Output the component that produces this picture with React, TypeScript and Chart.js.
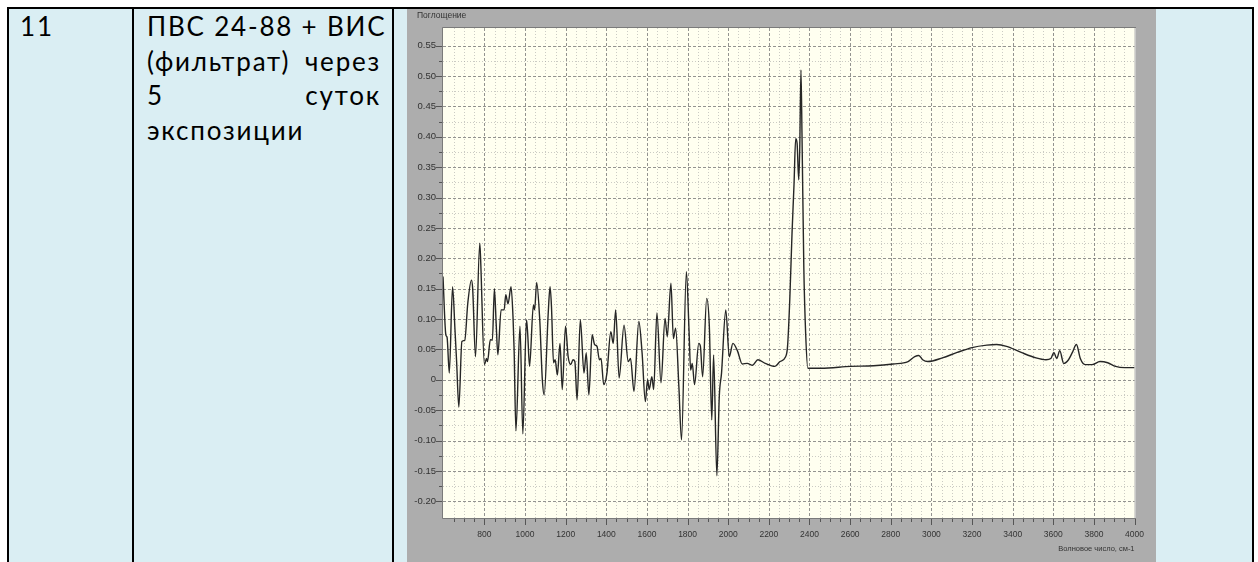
import React, { useEffect, useRef } from "react";
import { Chart, registerables } from "chart.js";

Chart.register(...registerables);

const rowNumber = "11";
const descriptionLines = ["ПВС 24-88 + ВИС", "(фильтрат) через", "5 суток", "экспозиции"];
const yAxisTitle = "Поглощение";
const xAxisTitle = "Волновое число, см-1";

const wavenumbers = [
  596, 610, 616, 627, 643, 655, 663, 674, 689, 703, 718, 736, 742, 756, 777, 781,
  800, 810, 815, 829, 839, 849, 858, 866, 882, 897, 905, 916, 931, 941, 946, 955,
  975, 989, 1007, 1013, 1022, 1041, 1047, 1057, 1072, 1085, 1094, 1114, 1123, 1130,
  1140, 1148, 1159, 1172, 1183, 1199, 1212, 1225, 1236, 1245, 1256, 1272, 1290, 1301,
  1314, 1330, 1342, 1354, 1366, 1374, 1387, 1403, 1422, 1434, 1446, 1463, 1487, 1508,
  1519, 1536, 1560, 1576, 1592, 1603, 1611, 1624, 1633, 1649, 1669, 1689, 1700, 1718,
  1730, 1741, 1757, 1770, 1794, 1807, 1815, 1823, 1834, 1855, 1863, 1874, 1894, 1907,
  1919, 1928, 1944, 1956, 1967, 1988, 2005, 2023, 2045, 2069, 2093, 2120, 2146, 2182,
  2230, 2255, 2281, 2292, 2303, 2314, 2324, 2332, 2339, 2347, 2352, 2358, 2363, 2372,
  2381, 2392, 2457, 2602, 2715, 2812, 2885, 2918, 2938, 2957, 2982, 3054, 3127, 3200,
  3273, 3321, 3370, 3442, 3515, 3564, 3588, 3603, 3617, 3632, 3651, 3675, 3694, 3714,
  3733, 3757, 3791, 3830, 3868, 3907, 3951, 4000,
];

const absorbance = [
  0.17, 0.074, 0.07, 0.011, 0.153, 0.082, 0.03, -0.045, 0.063, 0.065, 0.126, 0.164, 0.15, 0.038, 0.225, 0.2,
  0.025, 0.035, 0.03, 0.066, 0.065, 0.15, 0.09, 0.041, 0.115, 0.115, 0.14, 0.125, 0.153, 0.1, 0.05, -0.084,
  0.088, -0.089, 0.099, 0.075, 0.022, 0.123, 0.115, 0.16, 0.1, 0.0, -0.025, 0.11, 0.153, 0.12,
  0.028, 0.033, 0.008, 0.06, -0.016, 0.088, 0.038, 0.025, 0.033, 0.03, -0.033, 0.099, 0.011, 0.044,
  -0.025, 0.074, 0.058, 0.055, 0.033, 0.035, -0.008, 0.011, 0.079, 0.06, 0.115, 0.003, 0.09, 0.03,
  0.035, -0.019, 0.096, 0.044, -0.036, 0.0, -0.016, 0.005, -0.016, 0.11, -0.005, 0.101, 0.071, 0.159,
  0.068, 0.085, -0.011, -0.099, 0.178, 0.082, 0.016, 0.027, -0.008, 0.06, 0.055, 0.005, 0.134, 0.088,
  -0.066, 0.041, -0.158, -0.027, 0.011, 0.115, 0.038, 0.06, 0.048, 0.026, 0.027, 0.024, 0.033, 0.027,
  0.022, 0.03, 0.037, 0.055, 0.132, 0.241, 0.323, 0.397, 0.389, 0.329, 0.38, 0.51, 0.406, 0.186,
  0.077, 0.019, 0.019, 0.022, 0.023, 0.026, 0.03, 0.038, 0.04, 0.033, 0.03, 0.036, 0.045, 0.053,
  0.057, 0.058, 0.055, 0.045, 0.036, 0.033, 0.035, 0.045, 0.035, 0.048, 0.027, 0.033, 0.045, 0.058,
  0.035, 0.025, 0.025, 0.03, 0.028, 0.022, 0.02, 0.02,
];

const xMin = 596;
const xMax = 4000;
const xStep = 50;
const xMajorStep = 200;
const xFirstLabel = 800;
const yMin = -0.2275;
const yMax = 0.579;
const yStep = 0.025;
const yMajorStep = 0.05;

const isMultiple = (v: number, step: number) => Math.abs(v / step - Math.round(v / step)) < 1e-4;

const tickFont = "'Liberation Sans Narrow', 'Liberation Sans', Arial, sans-serif";

const framePlugin = {
  id: "framePlugin",
  beforeDraw(chart: any) {
    const { ctx, chartArea: a, width, height } = chart;
    ctx.save();
    ctx.fillStyle = "#ADADAD";
    ctx.fillRect(0, 0, width, height);
    ctx.fillStyle = "#FFFFF0";
    ctx.fillRect(a.left, a.top, a.right - a.left, a.bottom - a.top);
    ctx.restore();
  },
  beforeDatasetsDraw(chart: any) {
    const { ctx, chartArea: a, scales } = chart;
    const xs = scales.x;
    const ys = scales.y;
    ctx.save();
    ctx.lineWidth = 1;
    const pass = (major: boolean) => {
      ctx.strokeStyle = major ? "rgba(120,120,120,0.8)" : "rgba(160,160,160,0.55)";
      ctx.setLineDash(major ? [3, 2] : [1, 2]);
      xs.ticks.forEach((t: any) => {
        if (isMultiple(t.value, xMajorStep) !== major) return;
        const px = Math.round(xs.getPixelForValue(t.value)) + 0.5;
        if (px <= a.left + 1 || px >= a.right - 1) return;
        ctx.beginPath();
        ctx.moveTo(px, a.top);
        ctx.lineTo(px, a.bottom);
        ctx.stroke();
      });
      ys.ticks.forEach((t: any) => {
        if (isMultiple(t.value, yMajorStep) !== major) return;
        const py = Math.round(ys.getPixelForValue(t.value)) + 0.5;
        if (py <= a.top + 1 || py >= a.bottom - 1) return;
        ctx.beginPath();
        ctx.moveTo(a.left, py);
        ctx.lineTo(a.right, py);
        ctx.stroke();
      });
    };
    pass(false);
    pass(true);
    ctx.restore();
  },
  afterDraw(chart: any) {
    const { ctx, chartArea: a, scales } = chart;
    const xs = scales.x;
    const ys = scales.y;
    ctx.save();
    ctx.lineWidth = 1;
    ctx.setLineDash([]);
    ctx.strokeStyle = "#C8C8C8";
    ctx.beginPath();
    ctx.moveTo(Math.round(a.right) + 0.5, a.top);
    ctx.lineTo(Math.round(a.right) + 0.5, a.bottom);
    ctx.stroke();
    ctx.strokeStyle = "#7A7A7A";
    ctx.beginPath();
    ctx.moveTo(Math.round(a.left) - 0.5, Math.round(a.top) - 0.5);
    ctx.lineTo(Math.round(a.right) + 1, Math.round(a.top) - 0.5);
    ctx.moveTo(Math.round(a.left) - 0.5, Math.round(a.top) - 0.5);
    ctx.lineTo(Math.round(a.left) - 0.5, Math.round(a.bottom) + 0.5);
    ctx.lineTo(Math.round(a.right) + 1, Math.round(a.bottom) + 0.5);
    ctx.stroke();
    ctx.strokeStyle = "#555555";
    ctx.beginPath();
    xs.ticks.forEach((t: any) => {
      if (t.value < xMin + 10) return;
      const px = Math.round(xs.getPixelForValue(t.value)) + 0.5;
      const len = isMultiple(t.value, xMajorStep) ? 6 : 3;
      ctx.moveTo(px, Math.round(a.bottom) + 1);
      ctx.lineTo(px, Math.round(a.bottom) + 1 + len);
    });
    ys.ticks.forEach((t: any) => {
      if (t.value < yMin + 0.005 || t.value > yMax - 0.002) return;
      const py = Math.round(ys.getPixelForValue(t.value)) + 0.5;
      const len = isMultiple(t.value, yMajorStep) ? 6 : 3;
      ctx.moveTo(Math.round(a.left) - 1, py);
      ctx.lineTo(Math.round(a.left) - 1 - len, py);
    });
    ctx.stroke();
    ctx.fillStyle = "#333333";
    ctx.font = "8.5px 'Liberation Sans', Arial, sans-serif";
    ctx.textBaseline = "middle";
    ctx.textAlign = "left";
    ctx.fillText(yAxisTitle, 10, 7);
    ctx.textAlign = "right";
    ctx.font = "7.5px 'Liberation Sans', Arial, sans-serif";
    ctx.fillText(xAxisTitle, a.right, 540);
    ctx.restore();
  },
};

function SpectrumChart() {
  const ref = useRef<HTMLCanvasElement | null>(null);
  useEffect(() => {
    if (!ref.current) return;
    const points = wavenumbers.map((x, i) => ({ x, y: absorbance[i] }));
    const chart = new Chart(ref.current, {
      type: "line",
      data: {
        datasets: [
          {
            data: points,
            borderColor: "#262626",
            borderWidth: 1.4,
            pointRadius: 0,
            fill: false,
            cubicInterpolationMode: "monotone",
          },
        ],
      },
      options: {
        animation: false,
        responsive: false,
        maintainAspectRatio: false,
        layout: { padding: { top: 19, right: 11, bottom: 0, left: 0 } },
        plugins: { legend: { display: false }, tooltip: { enabled: false }, title: { display: false } },
        scales: {
          x: {
            type: "linear",
            min: xMin,
            max: xMax,
            grid: { display: false, drawTicks: false },
            border: { display: false },
            ticks: {
              stepSize: xStep,
              autoSkip: false,
              maxRotation: 0,
              minRotation: 0,
              padding: 12,
              color: "#333333",
              font: { family: tickFont, size: 8.5 },
              callback: (v: any) => {
                const n = Number(v);
                return isMultiple(n, xMajorStep) && n >= xFirstLabel ? String(n) : "";
              },
            },
            afterFit: (s: any) => {
              s.height = 44;
            },
          },
          y: {
            type: "linear",
            min: yMin,
            max: yMax,
            grid: { display: false, drawTicks: false },
            border: { display: false },
            ticks: {
              stepSize: yStep,
              autoSkip: false,
              padding: 7,
              color: "#333333",
              font: { family: tickFont, size: 9.5 },
              callback: (v: any) => {
                const n = Number(v);
                if (!isMultiple(n, yMajorStep)) return "";
                if (Math.abs(n) < 1e-6) return "0";
                return n.toFixed(2);
              },
            },
            afterFit: (s: any) => {
              s.width = 36;
            },
          },
        },
      },
      plugins: [framePlugin],
    });
    return () => chart.destroy();
  }, []);
  return <canvas ref={ref} width={749} height={553} style={{ display: "block", width: 749, height: 553 }} />;
}

export default function App() {
  const textFont = "Lato, 'Open Sans', 'Liberation Sans', sans-serif";
  const lineBox = (i: number, text: string, last: boolean) => (
    <div
      key={i}
      style={{
        position: "absolute",
        left: 147,
        top: 6 + i * 34.5,
        width: 234,
        height: 40,
        lineHeight: "40px",
        fontSize: 26,
        whiteSpace: "nowrap",
        textAlign: last ? "left" : "justify",
        textAlignLast: last ? "left" : "justify",
        letterSpacing: 1.8,
      } as React.CSSProperties}
    >
      {text}
    </div>
  );
  return (
    <div
      style={{
        position: "absolute",
        left: 0,
        top: 0,
        width: 1258,
        height: 562,
        background: "#FFFFFF",
        overflow: "hidden",
        fontFamily: textFont,
        color: "#000",
      }}
    >
      <div style={{ position: "absolute", left: 9, top: 9, width: 1243, height: 553, background: "#DAEEF3" }} />
      <div style={{ position: "absolute", left: 407, top: 9, width: 749, height: 553, background: "#ADADAD" }}>
        <SpectrumChart />
      </div>
      <div style={{ position: "absolute", left: 7, top: 7, width: 1247, height: 2, background: "#000" }} />
      <div style={{ position: "absolute", left: 7, top: 7, width: 2, height: 555, background: "#000" }} />
      <div style={{ position: "absolute", left: 132, top: 7, width: 2, height: 555, background: "#000" }} />
      <div style={{ position: "absolute", left: 392, top: 7, width: 2, height: 555, background: "#000" }} />
      <div style={{ position: "absolute", left: 1252, top: 7, width: 2, height: 555, background: "#000" }} />
      <div
        style={{
          position: "absolute",
          left: 20,
          top: 6,
          height: 40,
          lineHeight: "40px",
          fontSize: 26,
          letterSpacing: 1.8,
        }}
      >
        {rowNumber}
      </div>
      {descriptionLines.map((t, i) => lineBox(i, t, i === descriptionLines.length - 1))}
    </div>
  );
}
